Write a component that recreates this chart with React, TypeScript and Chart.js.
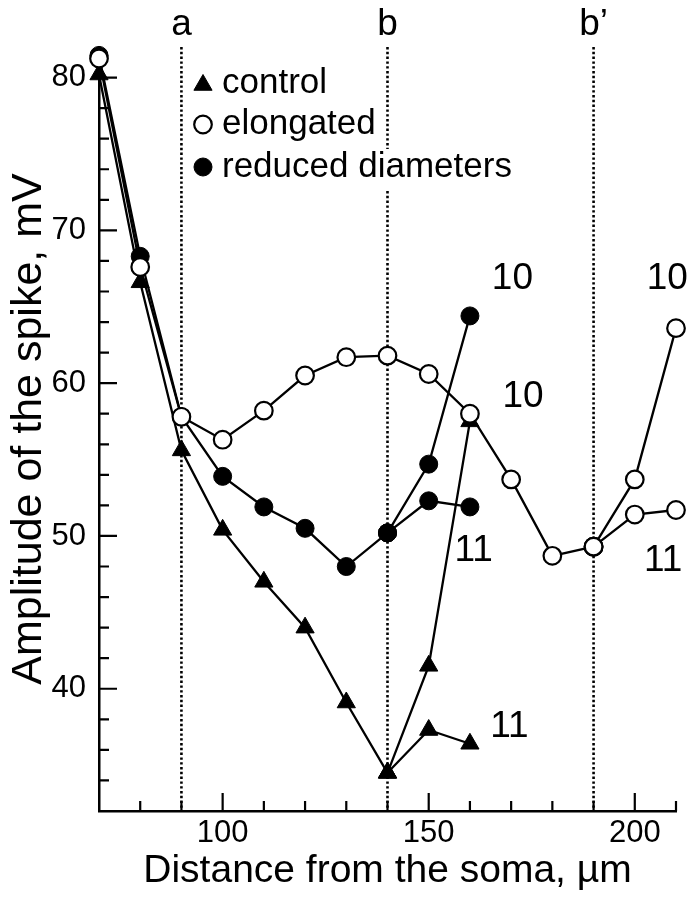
import React, { useEffect, useRef } from "react";
import { Chart, registerables } from "chart.js";

Chart.register(...registerables);

const FONT = "'Liberation Sans', Arial, Helvetica, sans-serif";
const NARROW = "'Liberation Sans Narrow', 'Arial Narrow', 'Liberation Sans', Arial, sans-serif";

// ---- data ----
const distMain = [70, 80, 90, 100, 110, 120, 130, 140];
const controlMain = [80.2, 66.6, 55.6, 50.4, 47.0, 44.0, 39.1, 34.5];
const reducedMain = [81.45, 68.3, 57.8, 53.9, 51.9, 50.5, 48.0, 50.2];

const distBranchB = [140, 150, 160];
const control10 = [34.5, 41.5, 57.5];
const control11 = [34.5, 37.3, 36.4];
const reduced10 = [50.2, 54.7, 64.4];
const reduced11 = [50.2, 52.3, 51.9];

const distElongMain = [70, 80, 90, 100, 110, 120, 130, 140, 150, 160, 170, 180, 190];
const elongMain = [81.25, 67.6, 57.8, 56.3, 58.2, 60.5, 61.7, 61.8, 60.6, 58.0, 53.7, 48.7, 49.3];
const distBranchB2 = [190, 200, 210];
const elong10 = [49.3, 53.7, 63.6];
const elong11 = [49.3, 51.4, 51.7];

const xMajorTicks = [100, 150, 200];
const yMajorTicks = [40, 50, 60, 70, 80];

const regionX = [90, 140, 190];
const regionNames = ["a", "b", "b\u2019"];

const branchLabelText = ["10", "10", "10", "11", "11", "11"];
const branchLabelX = [170.3, 172.9, 207.9, 160.9, 206.9, 169.6];
const branchLabelY = [66.8, 59.1, 66.8, 49.0, 48.4, 37.5];

const legendNames = ["control", "elongated", "reduced diameters"];

// ---- styles ----
type MarkStyle = { pointStyle: "triangle" | "circle"; radius: number; fill: string; bw: number };
const controlStyle: MarkStyle = { pointStyle: "triangle", radius: 10.5, fill: "#000", bw: 1 };
const elongStyle: MarkStyle = { pointStyle: "circle", radius: 8.8, fill: "#fff", bw: 2.2 };
const reducedStyle: MarkStyle = { pointStyle: "circle", radius: 9, fill: "#000", bw: 1 };
const legendStyles = [controlStyle, elongStyle, reducedStyle];

function mk(xs: number[], ys: number[], st: MarkStyle, order: number) {
  return {
    data: xs.map((x, i) => ({ x, y: ys[i] })),
    showLine: true,
    borderColor: "#000",
    borderWidth: 2.3,
    pointStyle: st.pointStyle,
    pointRadius: st.radius,
    pointBackgroundColor: st.fill,
    pointBorderColor: "#000",
    pointBorderWidth: st.bw,
    order,
    clip: false as any,
  };
}

function drawMarker(ctx: CanvasRenderingContext2D, st: MarkStyle, x: number, y: number) {
  ctx.save();
  ctx.beginPath();
  const r = st.radius;
  if (st.pointStyle === "triangle") {
    ctx.moveTo(x, y - r);
    ctx.lineTo(x + r * Math.sin((2 * Math.PI) / 3), y + r / 2);
    ctx.lineTo(x - r * Math.sin((2 * Math.PI) / 3), y + r / 2);
    ctx.closePath();
  } else {
    ctx.arc(x, y, r, 0, Math.PI * 2);
  }
  ctx.fillStyle = st.fill;
  ctx.fill();
  ctx.lineWidth = st.bw;
  ctx.strokeStyle = "#000";
  ctx.stroke();
  ctx.restore();
}

const decorPlugin = {
  id: "decor",
  beforeDatasetsDraw(chart: any) {
    const { ctx, chartArea: ca, scales } = chart;
    const xs = scales.x;
    const ys = scales.y;
    ctx.save();
    ctx.strokeStyle = "#000";
    ctx.lineWidth = 2.2;
    ctx.beginPath();
    for (let v = 34; v <= 80; v += 2) {
      const py = ys.getPixelForValue(v);
      const len = yMajorTicks.includes(v) ? 18 : 10;
      ctx.moveTo(ca.left, py);
      ctx.lineTo(ca.left + len, py);
    }
    for (let v = 80; v <= 210; v += 10) {
      const px = xs.getPixelForValue(v);
      const len = xMajorTicks.includes(v) ? 18 : 10;
      ctx.moveTo(px, ca.bottom);
      ctx.lineTo(px, ca.bottom - len);
    }
    ctx.stroke();
    ctx.setLineDash([2.4, 2.4]);
    ctx.lineWidth = 2.6;
    ctx.beginPath();
    regionX.forEach((v) => {
      const px = xs.getPixelForValue(v);
      ctx.moveTo(px, ca.top);
      ctx.lineTo(px, ca.bottom);
    });
    ctx.stroke();
    ctx.restore();
  },
  afterDatasetsDraw(chart: any) {
    const { ctx, chartArea: ca, scales } = chart;
    const xs = scales.x;
    const ys = scales.y;
    ctx.save();
    // legend
    const markX = ca.left + 104;
    const textX = ca.left + 123;
    const rowY = [ca.top + 36, ca.top + 77.5, ca.top + 120];
    ctx.font = `35px ${FONT}`;
    ctx.textAlign = "left";
    ctx.textBaseline = "alphabetic";
    legendNames.forEach((name, i) => {
      const w = ctx.measureText(name).width;
      ctx.fillStyle = "#fff";
      ctx.fillRect(textX - 3, rowY[i] - 18, w + 6, 42);
      drawMarker(ctx, legendStyles[i], markX, rowY[i] + (i === 0 ? 2 : 0));
      ctx.fillStyle = "#000";
      ctx.fillText(name, textX, rowY[i] + 9.5);
    });
    // branch labels
    ctx.font = `37px ${FONT}`;
    ctx.textAlign = "center";
    ctx.textBaseline = "middle";
    ctx.fillStyle = "#000";
    branchLabelText.forEach((t, i) => {
      ctx.fillText(t, xs.getPixelForValue(branchLabelX[i]), ys.getPixelForValue(branchLabelY[i]));
    });
    // region labels above the plot
    ctx.textBaseline = "alphabetic";
    regionNames.forEach((t, i) => {
      ctx.fillText(t, xs.getPixelForValue(regionX[i]), ca.top - 12);
    });
    ctx.restore();
  },
};

export default function App() {
  const ref = useRef<HTMLCanvasElement>(null);
  useEffect(() => {
    document.body.style.margin = "0";
    Chart.defaults.font.family = FONT;
    Chart.defaults.color = "#000";
    const chart = new Chart(ref.current as HTMLCanvasElement, {
      type: "scatter",
      data: {
        datasets: [
          mk(distElongMain, elongMain, elongStyle, 0),
          mk(distBranchB2, elong10, elongStyle, 0),
          mk(distBranchB2, elong11, elongStyle, 0),
          mk(distMain, reducedMain, reducedStyle, 1),
          mk(distBranchB, reduced10, reducedStyle, 1),
          mk(distBranchB, reduced11, reducedStyle, 1),
          mk(distMain, controlMain, controlStyle, 2),
          mk(distBranchB, control10, controlStyle, 2),
          mk(distBranchB, control11, controlStyle, 2),
        ] as any,
      },
      options: {
        responsive: false,
        maintainAspectRatio: false,
        animation: false,
        devicePixelRatio: 1,
        layout: { padding: { top: 47, right: 17, left: 0, bottom: 0 } },
        plugins: { legend: { display: false }, tooltip: { enabled: false } },
        scales: {
          x: {
            type: "linear",
            min: 70,
            max: 210,
            grid: { display: false, drawTicks: false },
            border: { display: true, color: "#000", width: 2.5 },
            afterBuildTicks: (axis: any) => {
              axis.ticks = xMajorTicks.map((v) => ({ value: v }));
            },
            afterFit: (s: any) => {
              s.height = 89;
            },
            ticks: {
              font: { size: 31, family: NARROW },
              color: "#000",
              padding: 4,
              maxRotation: 0,
              callback: (v: any) => String(v),
            },
            title: {
              display: true,
              text: "Distance from the soma, \u00b5m",
              font: { size: 39, family: FONT },
              color: "#000",
              padding: { top: 0, bottom: 5 },
            },
          },
          y: {
            type: "linear",
            min: 32,
            max: 82,
            grid: { display: false, drawTicks: false },
            border: { display: true, color: "#000", width: 2.5 },
            afterBuildTicks: (axis: any) => {
              axis.ticks = yMajorTicks.map((v) => ({ value: v }));
            },
            afterFit: (s: any) => {
              s.width = 99;
            },
            ticks: {
              font: { size: 31, family: NARROW },
              color: "#000",
              padding: 13,
              callback: (v: any) => String(v),
            },
            title: {
              display: true,
              text: "Amplitude of the spike, mV",
              font: { size: 43, family: FONT },
              color: "#000",
              padding: { top: 3, bottom: 0 },
            },
          },
        },
      } as any,
      plugins: [decorPlugin],
    });
    return () => chart.destroy();
  }, []);
  return (
    <div style={{ width: 693, height: 900 }}>
      <canvas ref={ref} width={693} height={900} style={{ display: "block", width: 693, height: 900 }} />
    </div>
  );
}
